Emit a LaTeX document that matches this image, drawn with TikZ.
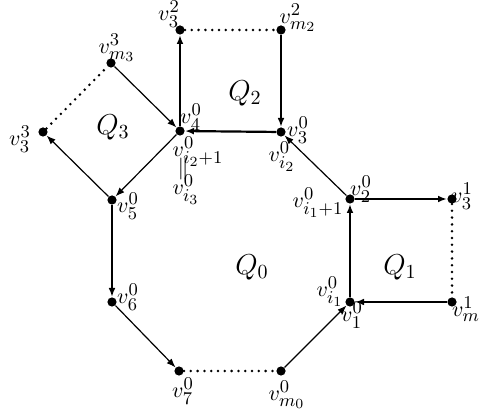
\documentclass[tikz,border=0pt]{standalone}
\DeclareMathSizes{10.95}{10.95}{9}{7}
\DeclareMathSizes{14.4}{14.4}{10}{8}
\usetikzlibrary{arrows.meta}
\begin{document}
\begin{tikzpicture}[x=0.5pt,y=-0.5pt,
  vtx/.style={circle,fill=black,inner sep=0pt,minimum size=4.6pt},
  lbl/.style={inner sep=0pt,font=\fontsize{10.95}{13}\selectfont},
  qlbl/.style={inner sep=0pt,font=\fontsize{14.4}{16}\selectfont},
  arr/.style={-{Latex[length=4.5pt,width=3.4pt]}},
  thk/.style={arr,line width=1.1pt},
  thn/.style={arr,line width=0.6pt},
  dotline/.style={line width=1.4pt,dash pattern=on 0pt off 3.4pt,line cap=round}]
\useasboundingbox (0,0) rectangle (481,410);
% vertices
\node[vtx] (v4) at (180,131) {};
\node[vtx] (q2a) at (180,30) {};
\node[vtx] (q2m) at (281,30) {};
\node[vtx] (v3) at (281,132) {};
\node[vtx] (v2) at (350,199) {};
\node[vtx] (q1a) at (452,199) {};
\node[vtx] (v1) at (350,302) {};
\node[vtx] (q1m) at (452,302) {};
\node[vtx] (vm0) at (281,371) {};
\node[vtx] (v7) at (179,371) {};
\node[vtx] (v6) at (112,302) {};
\node[vtx] (v5) at (112,200) {};
\node[vtx] (q3a) at (43,132) {};
\node[vtx] (q3m) at (111,63) {};
% edges
\draw[thk] (v4) -- (q2a);
\draw[dotline] (q2a) -- (q2m);
\draw[thk] (q2m) -- (v3);
\draw[thk] (v3) -- (v4);
\draw[thn] (v2) -- (v3);
\draw[thk] (v2) -- (q1a);
\draw[dotline] (q1a) -- (q1m);
\draw[thk] (q1m) -- (v1);
\draw[thk] (v1) -- (v2);
\draw[thn] (vm0) -- (v1);
\draw[dotline] (v7) -- (vm0);
\draw[thn] (v6) -- (v7);
\draw[thk] (v5) -- (v6);
\draw[thn] (v4) -- (v5);
\draw[thn] (v5) -- (q3a);
\draw[dotline] (q3a) -- (q3m);
\draw[thn] (q3m) -- (v4);
% labels
\node[lbl] (l1) at (169,14) {$v_3^2$};
\node[lbl] (l2) at (298,18) {$v_{m_2}^2$};
\node[lbl] (l3) at (117,48) {$v_{m_3}^3$};
\node[lbl] (l4) at (20,139) {$v_3^3$};
\node[lbl] (l5) at (191,117) {$v_4^0$};
\node[lbl] (l6) at (198,152) {$v_{i_2+1}^0$};
\node[lbl] (l6b) at (183,169) {$\|$};
\node[lbl] (l6c) at (186,190) {$v_{i_3}^0$};
\node[lbl] (l7) at (298,130) {$v_3^0$};
\node[lbl] (l8) at (282,157) {$v_{i_2}^0$};
\node[lbl] (l9) at (361,189) {$v_2^0$};
\node[lbl] (l10) at (318,203) {$v_{i_1+1}^0$};
\node[lbl] (l11) at (462,196) {$v_3^1$};
\node[lbl] (l12) at (330,292) {$v_{i_1}^0$};
\node[lbl] (l13) at (352,315) {$v_1^0$};
\node[lbl] (l14) at (466,309) {$v_m^1$};
\node[lbl] (l15) at (287,395) {$v_{m_0}^0$};
\node[lbl] (l16) at (183,391) {$v_7^0$};
\node[lbl] (l17) at (128,297) {$v_6^0$};
\node[lbl] (l18) at (128,206) {$v_5^0$};
\node[qlbl] (Q0) at (252,267) {$Q_0$};
\node[qlbl] (Q1) at (400,267) {$Q_1$};
\node[qlbl] (Q2) at (245,93) {$Q_2$};
\node[qlbl] (Q3) at (113,127) {$Q_3$};
\end{tikzpicture}
\end{document}
